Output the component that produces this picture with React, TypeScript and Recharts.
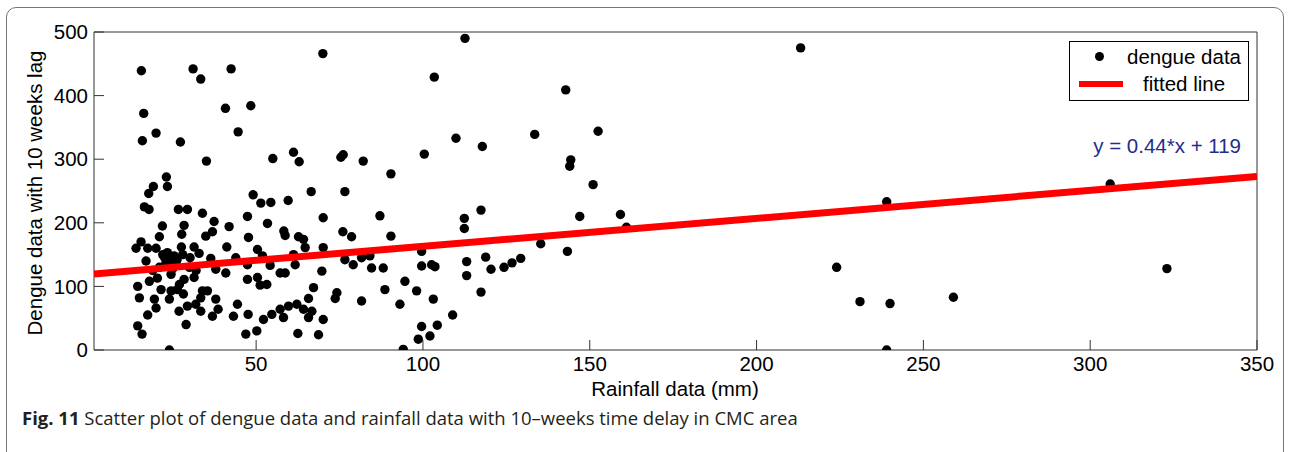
import { ScatterChart, Scatter, XAxis, YAxis } from "recharts";

// rainfall (mm) and dengue counts, 10-week lag
const rainfall = [
  15.6, 16.3, 15.9, 20, 27.3, 31.1, 33.4, 35.1, 42.5, 40.8, 48.4, 44.6, 23.1, 19.2, 23.4,
  17.8, 16.5, 17.9, 26.7, 29.4, 33.9, 37.4, 21.9, 28.4, 41.9, 36.9, 27.7, 21, 34.9, 47.4,
  49.1, 51.4, 47.7, 15.5, 14, 17.5, 20, 27.6, 31.4, 23.4, 25.4, 22.5, 32.9, 36.4, 41.2,
  43.9, 50.4, 51.9, 24.5, 26, 22.8, 25, 24.5, 28.4, 31.4, 18, 14.5, 15, 21.5, 24.5,
  26.4, 33.9, 35.4, 24, 19.5, 20, 17.5, 26.9, 29.4, 31.9, 33.4, 37.9, 38.6, 33.4, 36.9,
  29, 14.5, 15.8, 24, 44.4, 43.2, 47.6, 46.9, 50.2, 47.4, 50.4, 51.2, 47.4, 37.9, 40.9,
  55, 61.2, 62.9, 75.4, 76.1, 82.1, 100.4, 90.4, 54.4, 59.6, 66.5, 76.6, 53.4, 70.1, 87.1,
  58.3, 58.7, 62.7, 64.2, 76, 78.6, 90.4, 64.7, 70.1, 61.2, 76.6, 79.1, 81.6, 84.1, 84.6,
  88.1, 99.6, 99.6, 102.6, 54.2, 57.2, 58.7, 61.7, 69.7, 53.2, 67.2, 65.7, 74.2, 73.7, 81.6,
  88.6, 94.6, 98.1, 93.1, 103.1, 54.7, 57.2, 59.7, 62.2, 64.2, 66.7, 58.2, 65.7, 52.2, 70.1,
  62.5, 68.7, 94.1, 99.6, 98.6, 102.1, 112.6, 103.4, 142.8, 109.9, 117.8, 133.5, 152.5, 144.3, 144,
  151, 117.4, 112.4, 112.4, 147, 159.2, 161, 135.3, 143.3, 103.6, 113.1, 118.8, 120.4, 124.3, 126.7,
  129.3, 113.1, 117.4, 108.9, 104.3, 70, 213.2, 224, 231, 239, 240, 239, 259, 306, 323,
  22, 24.2, 26.3, 23, 21, 19, 30, 32, 28, 30.2, 17, 20.4, 27, 28.2,
];

const dengue = [
  439, 372, 329, 341, 327, 442, 426, 297, 442, 380, 384, 343, 272, 257, 257,
  246, 225, 221, 221, 221, 215, 202, 195, 196, 194, 186, 182, 178, 179, 210,
  244, 231, 177, 170, 160, 160, 160, 162, 162, 153, 148, 146, 152, 144, 162,
  145, 158, 148, 140, 135, 132, 128, 119, 111, 114, 108, 100, 82, 95, 93,
  95, 93, 93, 80, 80, 66, 55, 61, 69, 72, 82, 80, 64, 61, 53,
  40, 38, 25, 0, 72, 53, 56, 25, 30, 111, 114, 102, 134, 127, 121,
  301, 311, 296, 303, 307, 297, 308, 277, 232, 235, 249, 249, 199, 208, 211,
  187, 180, 178, 174, 186, 178, 179, 161, 161, 150, 142, 134, 145, 148, 129,
  129, 155, 132, 134, 133, 121, 121, 134, 124, 103, 98, 81, 90, 81, 77,
  95, 108, 93, 72, 80, 56, 64, 69, 72, 64, 61, 51, 51, 48, 48,
  26, 24, 1, 37, 17, 22, 490, 429, 409, 333, 320, 339, 344, 299, 289,
  260, 220, 207, 191, 210, 213, 193, 167, 155, 131, 139, 146, 127, 130, 137,
  144, 117, 91, 55, 39, 466, 475, 130, 76, 233, 73, 0, 83, 261, 128,
  150, 145, 142, 138, 130, 125, 130, 125, 150, 145, 140, 113, 103, 88,
];

const xTicks = [50, 100, 150, 200, 250, 300, 350];
const yTicks = [0, 100, 200, 300, 400, 500];

// fitted line end points, y = 0.44*x + 119
const fitX = [1.4, 350];
const fitY = [119.6, 273];
const fitLabel = "y = 0.44*x + 119";

const points = rainfall.map((x, i) => ({ x, y: dengue[i] }));
const fitLine = fitX.map((x, i) => ({ x, y: fitY[i] }));

const FONT = "Arial, 'Liberation Sans', Helvetica, sans-serif";
const AXIS = "#333";
const tickStyle = { fill: "#000", fontSize: 20.5, fontFamily: FONT };

const Dot = (props: any) => <circle cx={props.cx} cy={props.cy} r={4.7} fill="#000" />;
const NoDot = () => <g />;

export default function App() {
  return (
    <div style={{ position: "absolute", left: 0, top: 0, width: 1290, height: 452, background: "#fff", overflow: "hidden", fontFamily: FONT }}>
      {/* figure frame */}
      <div style={{ position: "absolute", left: 6, top: 7, width: 1276, height: 470, border: "1px solid #777", borderRadius: 10 }} />

      <ScatterChart width={1290} height={452} margin={{ top: 22, right: 13, bottom: 72, left: 34 }}>
        <XAxis
          xAxisId="bottom"
          dataKey="x"
          type="number"
          domain={[1.4, 350]}
          ticks={xTicks}
          interval={0}
          allowDataOverflow
          height={30}
          tickSize={-10}
          tickMargin={16}
          tick={tickStyle}
          tickLine={{ stroke: AXIS }}
          axisLine={{ stroke: AXIS }}
        />
        <XAxis
          xAxisId="top"
          orientation="top"
          dataKey="x"
          type="number"
          domain={[1.4, 350]}
          ticks={xTicks}
          interval={0}
          allowDataOverflow
          height={10}
          tickSize={-10}
          tick={false}
          tickLine={{ stroke: AXIS }}
          axisLine={{ stroke: AXIS }}
        />
        <YAxis
          yAxisId="left"
          dataKey="y"
          type="number"
          domain={[0, 500]}
          ticks={yTicks}
          interval={0}
          allowDataOverflow
          width={60}
          tickSize={-10}
          tickMargin={16}
          tick={tickStyle}
          tickLine={{ stroke: AXIS }}
          axisLine={{ stroke: AXIS }}
        />
        <YAxis
          yAxisId="right"
          orientation="right"
          dataKey="y"
          type="number"
          domain={[0, 500]}
          ticks={yTicks}
          interval={0}
          allowDataOverflow
          width={20}
          tickSize={-10}
          tick={false}
          tickLine={{ stroke: AXIS }}
          axisLine={{ stroke: AXIS }}
        />
        <Scatter
          name="dengue data"
          data={points}
          xAxisId="bottom"
          yAxisId="left"
          shape={Dot}
          isAnimationActive={false}
        />
        <Scatter
          name="fitted line"
          data={fitLine}
          xAxisId="top"
          yAxisId="right"
          line={{ stroke: "#ff0000", strokeWidth: 7 }}
          shape={NoDot}
          isAnimationActive={false}
        />
      </ScatterChart>

      {/* axis titles */}
      <div style={{ position: "absolute", left: 35, top: 193, transform: "translate(-50%, -50%) rotate(-90deg)", whiteSpace: "nowrap", fontSize: 20.5, color: "#000" }}>
        Dengue data with 10 weeks lag
      </div>
      <div style={{ position: "absolute", left: 675, top: 389, transform: "translate(-50%, -50%)", whiteSpace: "nowrap", fontSize: 20.5, color: "#000" }}>
        Rainfall data (mm)
      </div>

      {/* legend */}
      <div style={{ position: "absolute", left: 1069, top: 41, width: 178, height: 58, border: "1px solid #000", background: "#fff" }}>
        <div style={{ position: "absolute", left: 25, top: 10, width: 9, height: 9, borderRadius: "50%", background: "#000" }} />
        <div style={{ position: "absolute", left: 57, top: 3, fontSize: 20.5, lineHeight: "24px", whiteSpace: "nowrap" }}>dengue data</div>
        <div style={{ position: "absolute", left: 9, top: 39, width: 44, height: 6, background: "#ff0000" }} />
        <div style={{ position: "absolute", left: 73, top: 30, fontSize: 20.5, lineHeight: "24px", whiteSpace: "nowrap" }}>fitted line</div>
      </div>

      {/* fitted equation */}
      <div style={{ position: "absolute", right: 49, top: 134, fontSize: 20.5, lineHeight: "24px", color: "#1f2e8c", whiteSpace: "nowrap" }}>
        {fitLabel}
      </div>

      {/* caption */}
      <div style={{ position: "absolute", left: 22, top: 406, fontFamily: "'Open Sans', sans-serif", fontSize: 18.5, lineHeight: "24px", color: "#231f20", whiteSpace: "nowrap" }}>
        <b>Fig. 11</b> Scatter plot of dengue data and rainfall data with 10–weeks time delay in CMC area
      </div>
    </div>
  );
}
